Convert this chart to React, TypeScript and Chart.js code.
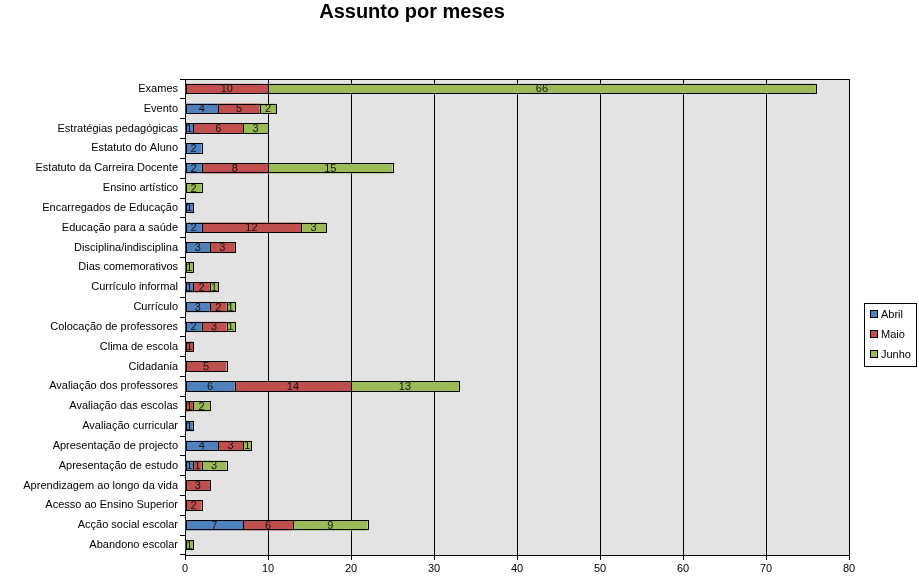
import React, { useEffect, useRef } from "react";
import { Chart, registerables } from "chart.js";

Chart.register(...registerables);

const categories = [
  "Exames",
  "Evento",
  "Estratégias pedagógicas",
  "Estatuto do Aluno",
  "Estatuto da Carreira Docente",
  "Ensino artístico",
  "Encarregados de Educação",
  "Educação para a saúde",
  "Disciplina/indisciplina",
  "Dias comemorativos",
  "Currículo informal",
  "Currículo",
  "Colocação de professores",
  "Clima de escola",
  "Cidadania",
  "Avaliação dos professores",
  "Avaliação das escolas",
  "Avaliação curricular",
  "Apresentação de projecto",
  "Apresentação de estudo",
  "Aprendizagem ao longo da vida",
  "Acesso ao Ensino Superior",
  "Acção social escolar",
  "Abandono escolar",
];

const abril = [0, 4, 1, 2, 2, 0, 1, 2, 3, 0, 1, 3, 2, 0, 0, 6, 0, 1, 4, 1, 0, 0, 7, 0];
const maio = [10, 5, 6, 0, 8, 0, 0, 12, 3, 0, 2, 2, 3, 1, 5, 14, 1, 0, 3, 1, 3, 2, 6, 0];
const junho = [66, 2, 3, 0, 15, 2, 0, 3, 0, 1, 1, 1, 1, 0, 0, 13, 2, 0, 1, 3, 0, 0, 9, 1];

const seriesNames = ["Abril", "Maio", "Junho"];
const seriesColors = ["#4F81BD", "#C0504D", "#9BBB59"];
const xMin = 0;
const xMax = 80;
const xStep = 10;
const title = "Assunto por meses";

const FONT = '"Liberation Sans", Arial, sans-serif';

export default function App() {
  const ref = useRef<HTMLCanvasElement | null>(null);

  useEffect(() => {
    if (!ref.current) return;

    const bgPlugin = {
      id: "bgPlugin",
      beforeDraw(chart: any) {
        const { ctx, chartArea } = chart;
        ctx.save();
        ctx.fillStyle = "#E3E3E3";
        ctx.fillRect(chartArea.left, chartArea.top, chartArea.right - chartArea.left, chartArea.bottom - chartArea.top);
        ctx.restore();
      },
      beforeDatasetsDraw(chart: any) {
        const { ctx, chartArea } = chart;
        ctx.save();
        ctx.strokeStyle = "#000";
        ctx.lineWidth = 1;
        ctx.strokeRect(
          Math.round(chartArea.left) + 0.5,
          Math.round(chartArea.top) + 0.5,
          Math.round(chartArea.right - chartArea.left),
          Math.round(chartArea.bottom - chartArea.top)
        );
        ctx.restore();
      },
    };

    const labelPlugin = {
      id: "labelPlugin",
      afterDatasetsDraw(chart: any) {
        const { ctx } = chart;
        ctx.save();
        // crisp black outlines around every segment
        ctx.strokeStyle = "#000";
        ctx.lineWidth = 1;
        chart.data.datasets.forEach((ds: any, di: number) => {
          const meta = chart.getDatasetMeta(di);
          meta.data.forEach((el: any, i: number) => {
            const v = ds.data[i];
            if (!v) return;
            const l = Math.round(Math.min(el.x, el.base));
            const r = Math.round(Math.max(el.x, el.base));
            const t = Math.round(el.y - el.height / 2);
            const b = Math.round(el.y + el.height / 2);
            ctx.strokeRect(l + 0.5, t + 0.5, r - l, b - t - 1);
          });
        });
        ctx.font = `11px ${FONT}`;
        ctx.fillStyle = "#111";
        ctx.textAlign = "center";
        ctx.textBaseline = "middle";
        chart.data.datasets.forEach((ds: any, di: number) => {
          const meta = chart.getDatasetMeta(di);
          meta.data.forEach((el: any, i: number) => {
            const v = ds.data[i];
            if (!v) return;
            const cx = (el.x + el.base) / 2;
            ctx.fillText(String(v), cx, el.y + 0.5);
          });
        });
        ctx.restore();
      },
    };

    const titleLegendPlugin = {
      id: "titleLegendPlugin",
      afterDraw(chart: any) {
        const { ctx } = chart;
        ctx.save();
        ctx.font = `bold 20px ${FONT}`;
        ctx.fillStyle = "#000";
        ctx.textAlign = "center";
        ctx.textBaseline = "middle";
        ctx.fillText(title, 412, 12);

        // legend
        ctx.strokeStyle = "#000";
        ctx.lineWidth = 1;
        ctx.strokeRect(864.5, 303.5, 52, 63);
        ctx.font = `11px ${FONT}`;
        ctx.textAlign = "left";
        chart.data.datasets.forEach((ds: any, i: number) => {
          const cy = 314 + i * 20;
          ctx.fillStyle = ds.backgroundColor;
          ctx.fillRect(870.5, cy - 3.5, 7, 7);
          ctx.strokeRect(870.5, cy - 3.5, 7, 7);
          ctx.fillStyle = "#000";
          ctx.fillText(ds.label, 881, cy + 0.5);
        });
        ctx.restore();
      },
    };

    const mk = (name: string, data: number[], color: string) => ({
      label: name,
      data: data.map((v) => (v === 0 ? null : v)),
      backgroundColor: color,
      borderWidth: 0,
      barPercentage: 0.52,
      categoryPercentage: 1,
    });

    const chart = new Chart(ref.current, {
      type: "bar",
      data: {
        labels: categories,
        datasets: [
          mk(seriesNames[0], abril, seriesColors[0]),
          mk(seriesNames[1], maio, seriesColors[1]),
          mk(seriesNames[2], junho, seriesColors[2]),
        ],
      },
      options: {
        indexAxis: "y",
        animation: false,
        responsive: false,
        maintainAspectRatio: false,
        layout: { padding: { top: 79, right: 70, left: 0, bottom: 0 } },
        plugins: {
          legend: { display: false },
          title: { display: false },
          tooltip: { enabled: false },
        },
        scales: {
          x: {
            type: "linear",
            stacked: true,
            min: xMin,
            max: xMax,
            ticks: {
              stepSize: xStep,
              color: "#000",
              font: { family: FONT, size: 11 },
              padding: 2,
            },
            grid: {
              color: "#000",
              lineWidth: 1,
              tickLength: 5,
              drawTicks: true,
            },
            border: { display: true, color: "#000" },
            afterFit: (s: any) => {
              s.height = 28;
            },
          },
          y: {
            type: "category",
            stacked: true,
            ticks: {
              color: "#000",
              font: { family: FONT, size: 11 },
              autoSkip: false,
              padding: 2,
            },
            grid: {
              offset: true,
              drawOnChartArea: false,
              color: "#000",
              tickLength: 5,
            },
            border: { display: true, color: "#000" },
            afterFit: (s: any) => {
              s.width = 185;
            },
          },
        },
      } as any,
      plugins: [bgPlugin, labelPlugin, titleLegendPlugin],
    });

    return () => chart.destroy();
  }, []);

  return (
    <div style={{ position: "absolute", left: 0, top: 0, width: 919, height: 583, background: "#fff" }}>
      <canvas ref={ref} width={919} height={583} style={{ display: "block" }} />
    </div>
  );
}
